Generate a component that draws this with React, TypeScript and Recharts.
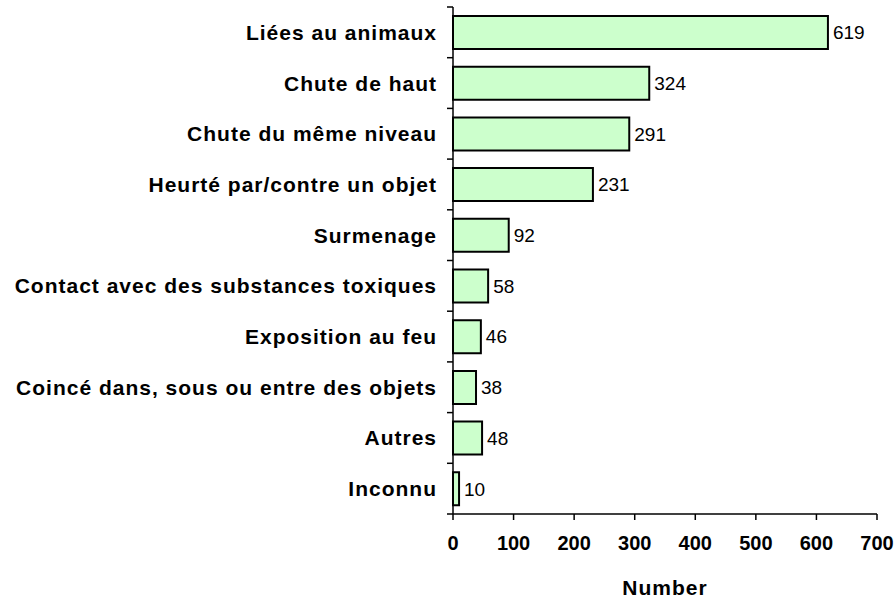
import { BarChart, Bar, XAxis, YAxis, LabelList } from "recharts";

const categories = [
  "Liées au animaux",
  "Chute de haut",
  "Chute du même niveau",
  "Heurté par/contre un objet",
  "Surmenage",
  "Contact avec des substances toxiques",
  "Exposition au feu",
  "Coincé dans, sous ou entre des objets",
  "Autres",
  "Inconnu",
];
const counts = [619, 324, 291, 231, 92, 58, 46, 38, 48, 10];
const xTicks = [0, 100, 200, 300, 400, 500, 600, 700];

const data = categories.map((name, i) => ({ name, value: counts[i] }));

const FONT = "Arial, 'Liberation Sans', sans-serif";
const TICK_LEN = 6;
const LABEL_GAP = 10;

// category label + tick marks on band edges (Excel style)
function CategoryTick({ x, y, payload, index }: any) {
  const half = payload?.offset ?? 0;
  const axisX = x + LABEL_GAP + TICK_LEN;
  return (
    <g>
      <text
        x={x}
        y={y}
        dy="0.355em"
        textAnchor="end"
        fill="#000"
        fontSize={21}
        fontWeight="bold"
        style={{ letterSpacing: "1px" }}
      >
        {payload.value}
      </text>
      {index === 0 && (
        <line x1={axisX - TICK_LEN} x2={axisX} y1={y - half} y2={y - half} stroke="#000" strokeWidth={1.5} />
      )}
      <line x1={axisX - TICK_LEN} x2={axisX} y1={y + half} y2={y + half} stroke="#000" strokeWidth={1.5} />
    </g>
  );
}

export default function App() {
  return (
    <div style={{ width: 895, height: 599, background: "#fff", fontFamily: FONT }}>
      <style>{"body{margin:0}"}</style>
      <BarChart
        width={895}
        height={599}
        data={data}
        layout="vertical"
        margin={{ top: 7, right: 18, bottom: 0, left: 0 }}
        barSize={33}
      >
        <XAxis
          type="number"
          domain={[0, 700]}
          ticks={xTicks}
          interval={0}
          height={85}
          tickSize={TICK_LEN}
          tickMargin={16}
          axisLine={{ stroke: "#000", strokeWidth: 1.5 }}
          tickLine={{ stroke: "#000", strokeWidth: 1.5 }}
          tick={{ fill: "#000", fontSize: 20, fontWeight: "bold" }}
          label={{
            value: "Number",
            position: "insideBottom",
            offset: 4,
            fill: "#000",
            fontSize: 21,
            fontWeight: "bold",
            style: { letterSpacing: "1px" },
          }}
        />
        <YAxis
          type="category"
          dataKey="name"
          width={453}
          interval={0}
          tickSize={TICK_LEN}
          tickMargin={LABEL_GAP}
          tickLine={false}
          axisLine={{ stroke: "#000", strokeWidth: 1.5 }}
          tick={<CategoryTick />}
        />
        <Bar dataKey="value" fill="#CCFFCC" stroke="#000" strokeWidth={2} isAnimationActive={false}>
          <LabelList dataKey="value" position="right" offset={5} fill="#000" fontSize={19} />
        </Bar>
      </BarChart>
    </div>
  );
}
